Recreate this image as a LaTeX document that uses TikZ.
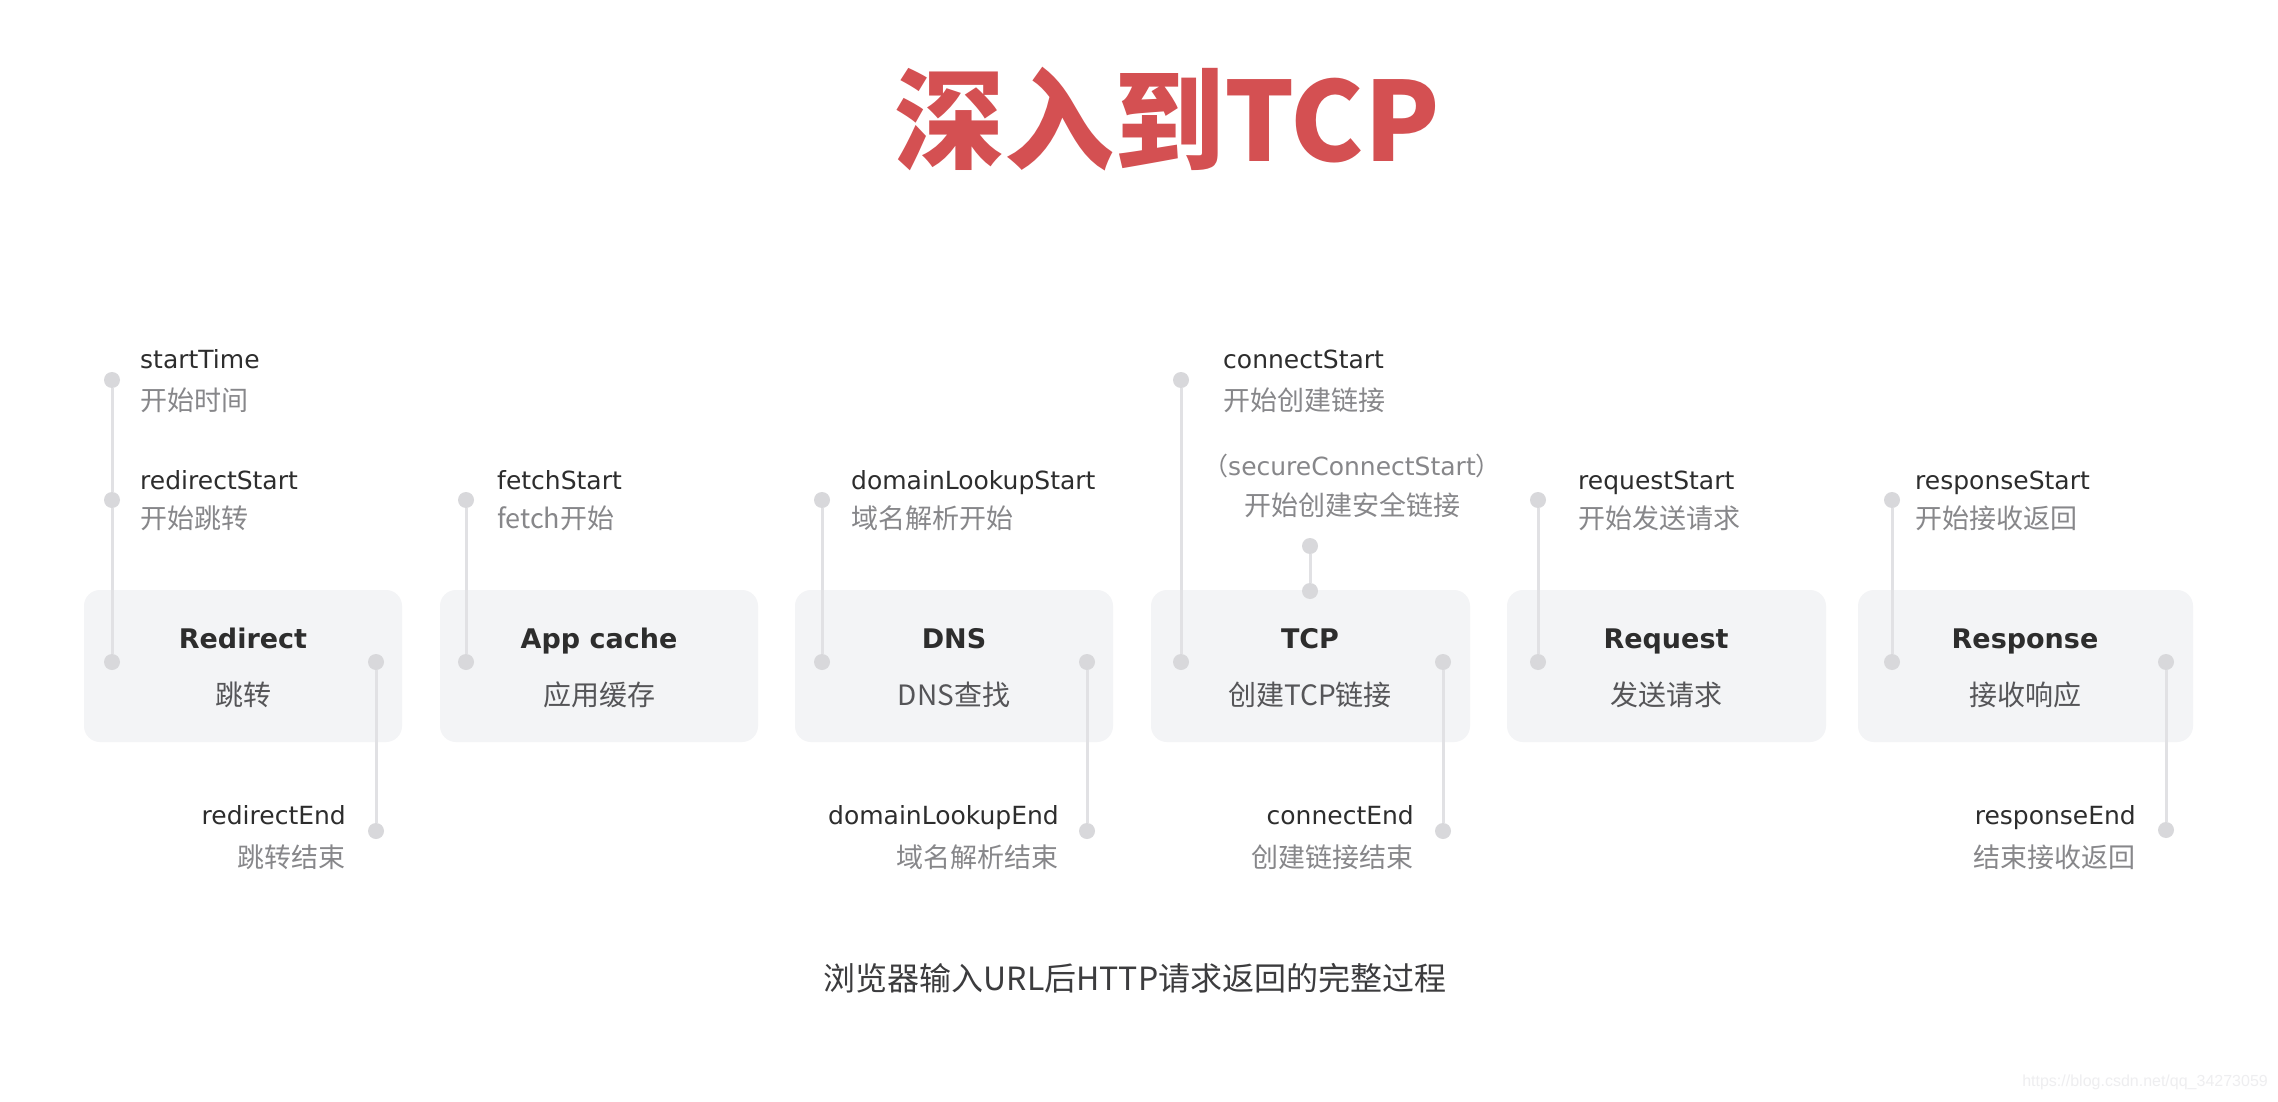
\documentclass[tikz,border=0pt]{standalone}
\usepackage{fontspec}
\setmainfont{DejaVu Sans}
\newfontfamily\cjk{Noto Sans CJK SC}
\newfontfamily\wmfont{Liberation Sans}
\definecolor{titlered}{RGB}{212,80,82}
\definecolor{txtdark}{RGB}{45,45,45}
\definecolor{txtgray}{RGB}{135,135,138}
\definecolor{subgray}{RGB}{85,85,88}
\definecolor{boxfill}{RGB}{243,244,246}
\definecolor{dotgray}{RGB}{216,216,219}
\definecolor{linegray}{RGB}{225,225,228}
\definecolor{footgray}{RGB}{60,60,62}
\definecolor{wmgray}{RGB}{238,238,240}
\begin{document}
\begin{tikzpicture}[x=1pt,y=-1pt,
  titlestyle/.style={inner sep=0pt, text=titlered, font=\cjk\bfseries\fontsize{110}{120}\selectfont},
  stagebox/.style={draw=none, fill=boxfill, rounded corners=16pt, minimum height=152pt, inner sep=0pt},
  stagetitle/.style={inner sep=0pt, text=txtdark, font=\bfseries\fontsize{27}{32}\selectfont, text height=19.5pt, text depth=0pt},
  stagesub/.style={inner sep=0pt, text=subgray, font=\cjk\fontsize{28}{33}\selectfont, text height=21pt, text depth=0pt},
  lblen/.style={inner sep=0pt, text=txtdark, font=\fontsize{25}{30}\selectfont, text height=18pt, text depth=0pt},
  lblzh/.style={inner sep=0pt, text=txtgray, font=\cjk\fontsize{27}{32}\selectfont, text height=20.5pt, text depth=0pt},
  tdot/.style={circle, fill=dotgray, draw=none, minimum size=16pt, inner sep=0pt},
  tick/.style={draw=linegray, line width=3pt},
  foot/.style={inner sep=0pt, text=footgray, font=\cjk\fontsize{32}{37}\selectfont},
  wm/.style={inner sep=0pt, text=wmgray, font=\wmfont\fontsize{16}{19}\selectfont}
]
\useasboundingbox (0,0) rectangle (2278,1102);
\fill[white] (0,0) rectangle (2278,1102);

% title
\node[titlestyle] (title) at (1167,119) {深入到TCP};

% stage boxes
\node[stagebox, minimum width=318pt] (boxRed) at (243,666) {};
\node[stagebox, minimum width=318pt] (boxApp) at (599,666) {};
\node[stagebox, minimum width=318pt] (boxDns) at (954,666) {};
\node[stagebox, minimum width=319pt] (boxTcp) at (1310.5,666) {};
\node[stagebox, minimum width=319pt] (boxReq) at (1666.5,666) {};
\node[stagebox, minimum width=335pt] (boxResp) at (2025.5,666) {};

% stage texts
\node[stagetitle] (tRed) at (243,639) {Redirect};
\node[stagesub] (sRed) at (243,695) {跳转};
\node[stagetitle] (tApp) at (599,639) {App cache};
\node[stagesub] (sApp) at (599,695) {应用缓存};
\node[stagetitle] (tDns) at (954,639) {DNS};
\node[stagesub] (sDns) at (954,695) {DNS查找};
\node[stagetitle] (tTcp) at (1310,639) {TCP};
\node[stagesub] (sTcp) at (1310,695) {创建TCP链接};
\node[stagetitle] (tReq) at (1666,639) {Request};
\node[stagesub] (sReq) at (1666,695) {发送请求};
\node[stagetitle] (tResp) at (2025,639) {Response};
\node[stagesub] (sResp) at (2025,695) {接收响应};

% dots
\node[tdot] (dStartTime) at (112,380) {};
\node[tdot] (dRedStart) at (112,500) {};
\node[tdot] (dRedIn) at (112,662) {};
\node[tdot] (dRedOut) at (376,662) {};
\node[tdot] (dRedEnd) at (376,831) {};

\node[tdot] (dFetch) at (466,500) {};
\node[tdot] (dAppIn) at (466,662) {};

\node[tdot] (dDnsStart) at (822,500) {};
\node[tdot] (dDnsIn) at (822,662) {};
\node[tdot] (dDnsOut) at (1087,662) {};
\node[tdot] (dDnsEnd) at (1087,831) {};

\node[tdot] (dConnStart) at (1181,380) {};
\node[tdot] (dTcpIn) at (1181,662) {};
\node[tdot] (dSecure) at (1310,546) {};
\node[tdot] (dTcpTop) at (1310,591) {};
\node[tdot] (dTcpOut) at (1443,662) {};
\node[tdot] (dConnEnd) at (1443,831) {};

\node[tdot] (dReqStart) at (1538,500) {};
\node[tdot] (dReqIn) at (1538,662) {};

\node[tdot] (dRespStart) at (1892,500) {};
\node[tdot] (dRespIn) at (1892,662) {};
\node[tdot] (dRespOut) at (2166,662) {};
\node[tdot] (dRespEnd) at (2166,830) {};

% connectors
\draw[tick] (dStartTime) -- (dRedStart);
\draw[tick] (dRedStart) -- (dRedIn);
\draw[tick] (dRedOut) -- (dRedEnd);
\draw[tick] (dFetch) -- (dAppIn);
\draw[tick] (dDnsStart) -- (dDnsIn);
\draw[tick] (dDnsOut) -- (dDnsEnd);
\draw[tick] (dConnStart) -- (dTcpIn);
\draw[tick] (dSecure) -- (dTcpTop);
\draw[tick] (dTcpOut) -- (dConnEnd);
\draw[tick] (dReqStart) -- (dReqIn);
\draw[tick] (dRespStart) -- (dRespIn);
\draw[tick] (dRespOut) -- (dRespEnd);

% start labels
\node[lblen, anchor=west] (lStartTime) at (140,359) {startTime};
\node[lblzh, anchor=west] (zStartTime) at (140,400) {开始时间};
\node[lblen, anchor=west] (lRedStart) at (140,480) {redirectStart};
\node[lblzh, anchor=west] (zRedStart) at (140,518) {开始跳转};
\node[lblen, anchor=west] (lFetch) at (497,480) {fetchStart};
\node[lblzh, anchor=west] (zFetch) at (497,518) {fetch开始};
\node[lblen, anchor=west] (lDnsStart) at (851,480) {domainLookupStart};
\node[lblzh, anchor=west] (zDnsStart) at (851,518) {域名解析开始};
\node[lblen, anchor=west] (lConnStart) at (1223,359) {connectStart};
\node[lblzh, anchor=west] (zConnStart) at (1223,400) {开始创建链接};
\node[lblen, text=txtgray] (lSecure) at (1352,466) {{\cjk （}secureConnectStart{\cjk ）}};
\node[lblzh] (zSecure) at (1352,505) {开始创建安全链接};
\node[lblen, anchor=west] (lReqStart) at (1578,480) {requestStart};
\node[lblzh, anchor=west] (zReqStart) at (1578,518) {开始发送请求};
\node[lblen, anchor=west] (lRespStart) at (1915,480) {responseStart};
\node[lblzh, anchor=west] (zRespStart) at (1915,518) {开始接收返回};

% end labels
\node[lblen, anchor=east] (lRedEnd) at (346,815) {redirectEnd};
\node[lblzh, anchor=east] (zRedEnd) at (346,857) {跳转结束};
\node[lblen, anchor=east] (lDnsEnd) at (1059,815) {domainLookupEnd};
\node[lblzh, anchor=east] (zDnsEnd) at (1059,857) {域名解析结束};
\node[lblen, anchor=east] (lConnEnd) at (1414,815) {connectEnd};
\node[lblzh, anchor=east] (zConnEnd) at (1414,857) {创建链接结束};
\node[lblen, anchor=east] (lRespEnd) at (2136,815) {responseEnd};
\node[lblzh, anchor=east] (zRespEnd) at (2136,857) {结束接收返回};

% footer
\node[foot] (footer) at (1135,978) {浏览器输入URL后HTTP请求返回的完整过程};
\node[wm, anchor=east] (wmark) at (2268,1082) {https://blog.csdn.net/qq\_34273059};
\end{tikzpicture}
\end{document}
